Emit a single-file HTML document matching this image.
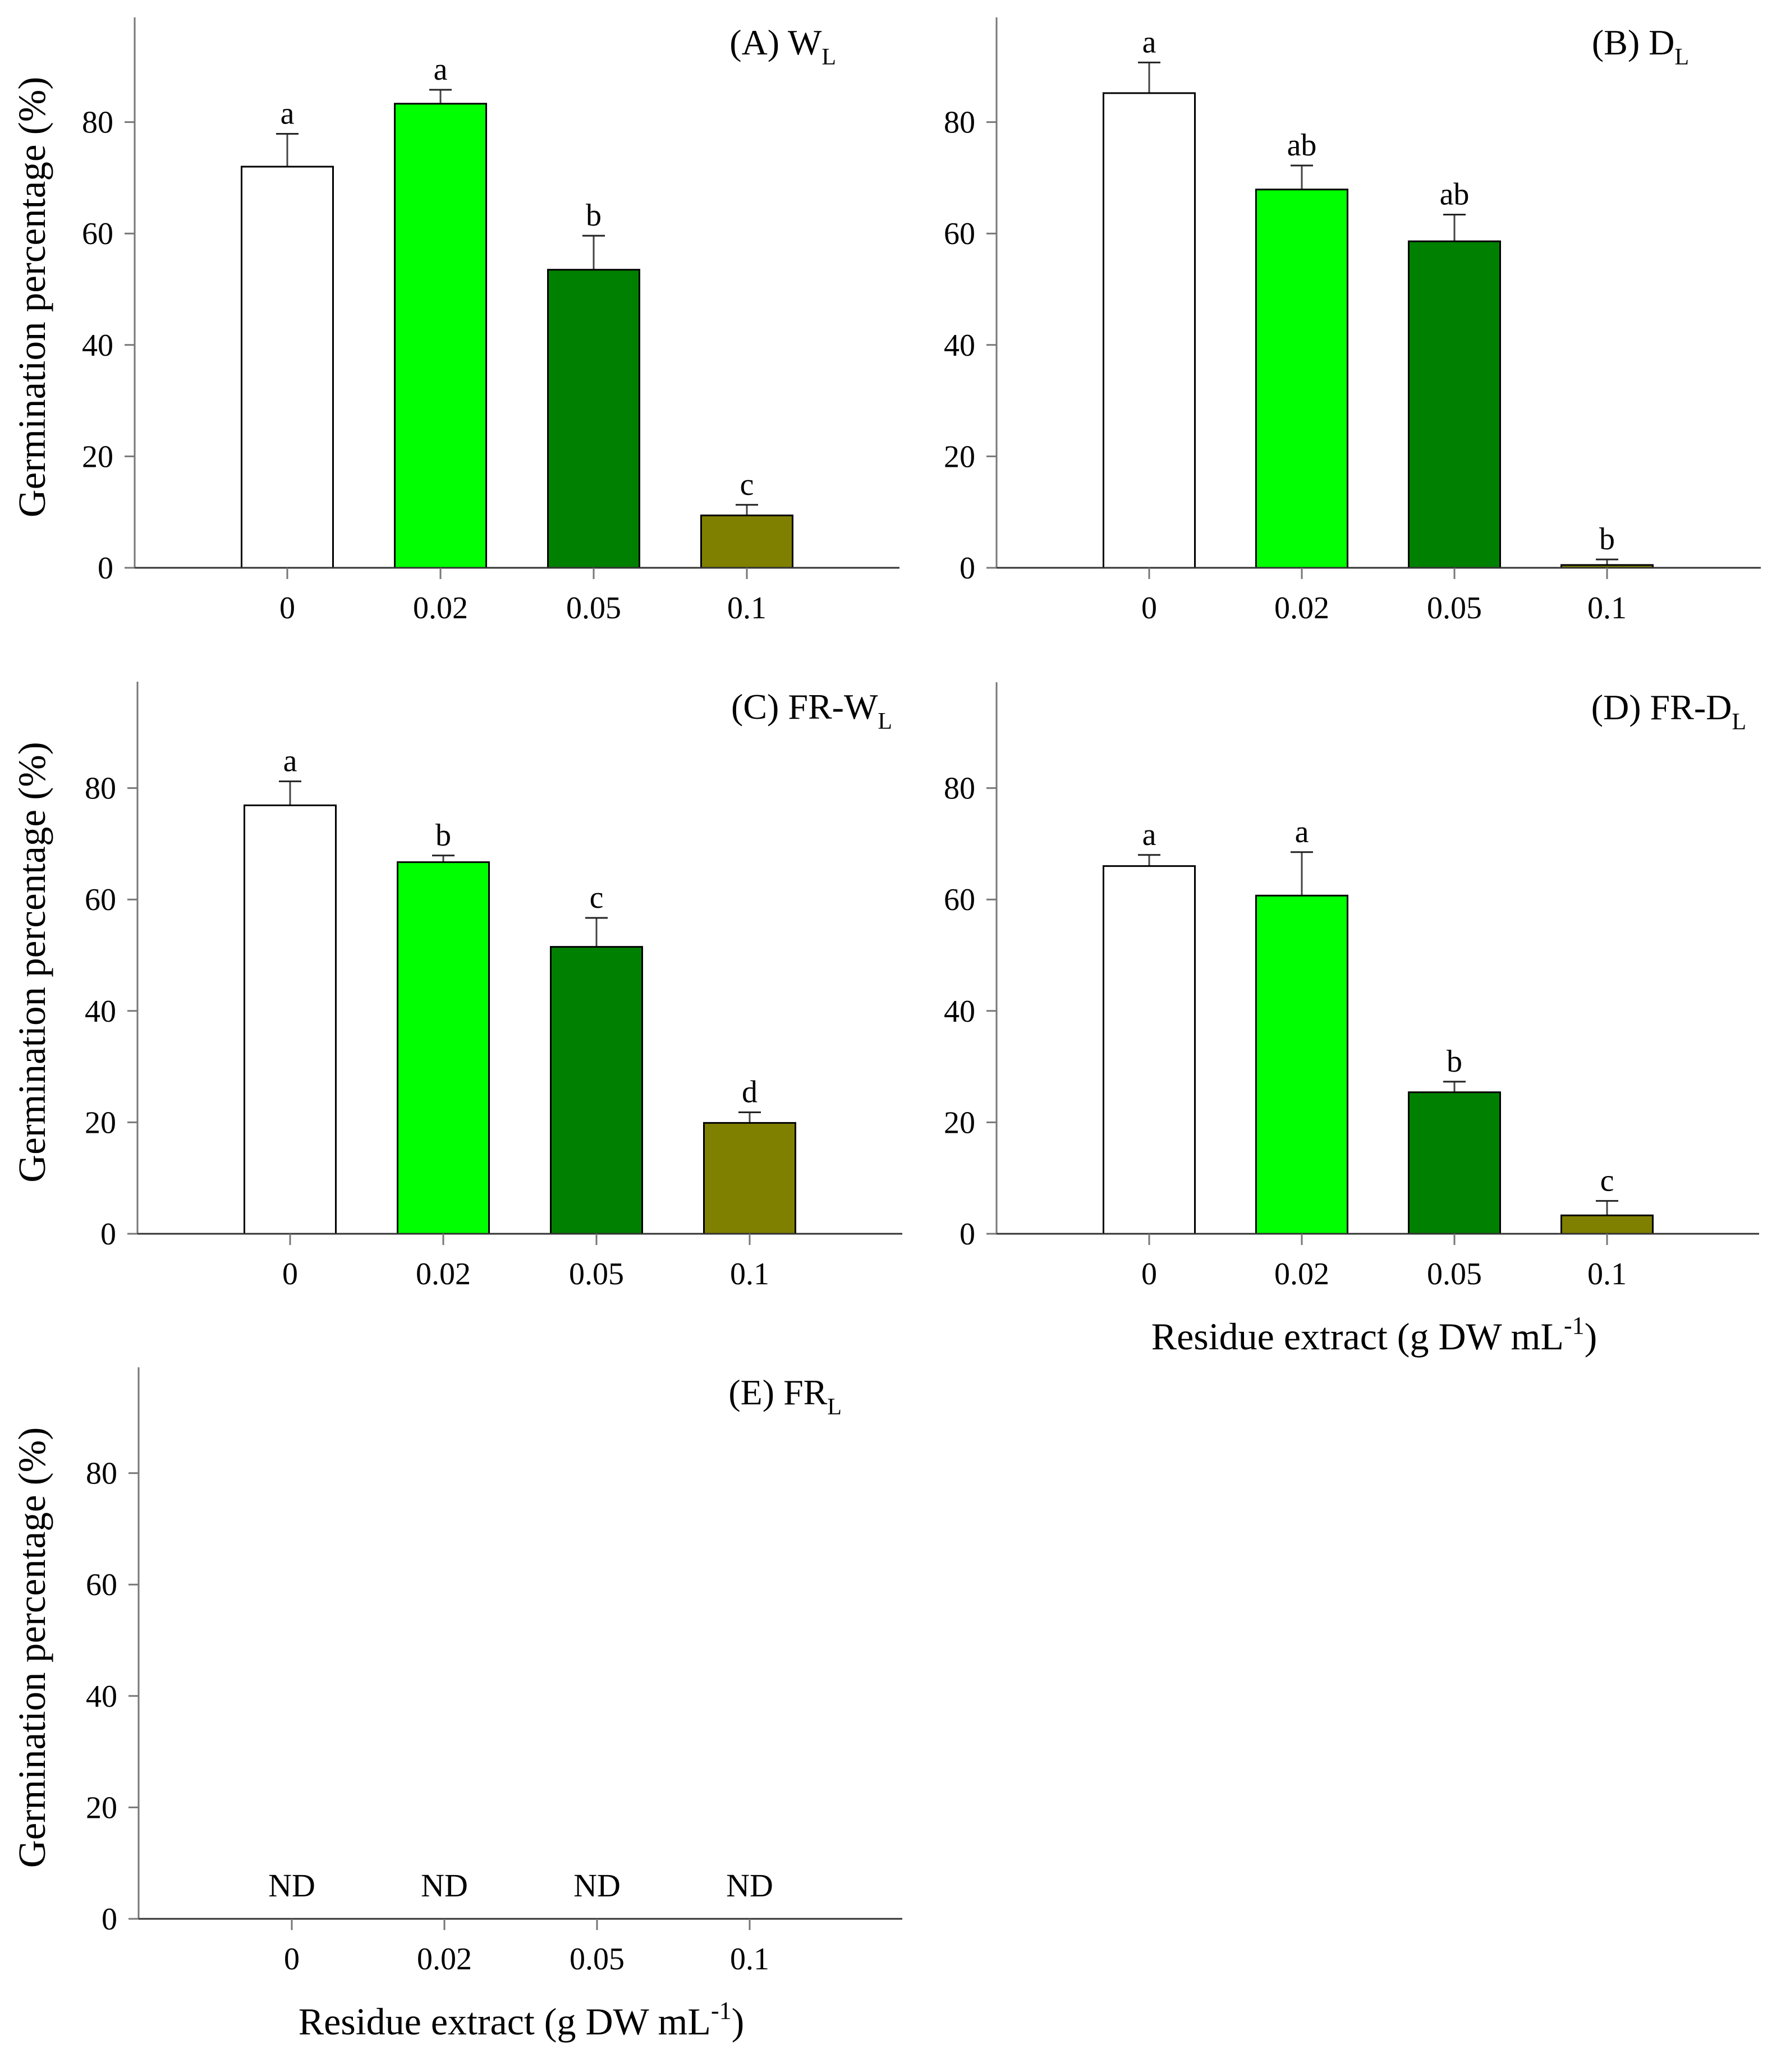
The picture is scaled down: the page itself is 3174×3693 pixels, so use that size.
<!DOCTYPE html>
<html><head><meta charset="utf-8">
<style>
html,body{margin:0;padding:0;background:#fff;}
svg, svg text{font-family:"Liberation Serif","DejaVu Serif",serif;}
</style></head>
<body>
<svg id="fig" width="3174" height="3688" viewBox="0 0 3174 3688" xmlns="http://www.w3.org/2000/svg" font-family="Liberation Serif, serif"></svg>
<script>
const categories = ["0","0.02","0.05","0.1"];
const yTicks = [0,20,40,60,80];
const barColors = ["#ffffff","#00ff00","#008000","#808000"];
const valuesA = [72, 83.3, 53.5, 9.4];
const errorsA = [5.9, 2.5, 6.1, 1.9];
const lettersA = ["a","a","b","c"];
const valuesB = [85.2, 67.9, 58.6, 0.5];
const errorsB = [5.5, 4.3, 4.8, 1.0];
const lettersB = ["a","ab","ab","b"];
const valuesC = [76.9, 66.7, 51.5, 19.9];
const errorsC = [4.3, 1.2, 5.2, 1.9];
const lettersC = ["a","b","c","d"];
const valuesD = [66, 60.7, 25.4, 3.3];
const errorsD = [2.0, 7.8, 1.9, 2.6];
const lettersD = ["a","a","b","c"];
const valuesE = [];
const errorsE = [];
const lettersE = ["ND","ND","ND","ND"];

const NS = "http://www.w3.org/2000/svg";
const svg = document.getElementById("fig");
function mk(tag, attrs, parent, text){
  const e = document.createElementNS(NS, tag);
  for (const k in attrs) e.setAttribute(k, attrs[k]);
  if (tag === "text") e.setAttribute("font-family", "Liberation Serif, serif");
  if (text !== undefined) e.textContent = text;
  (parent||svg).appendChild(e);
  return e;
}

function panel(cfg){
  const g = mk("g", {});
  
  
  const x0 = cfg.axisX, base = cfg.base, top = cfg.top, xEnd = cfg.xEnd;
  const unit = 9.93;
  const yS = v => base - v*unit;
  const xS = i => cfg.firstX + i*cfg.step;
  const bw = 163;
  cfg.values.forEach((v,i)=>{
    const cx = xS(i);
    const err = cfg.errors[i];
    const el = mk("line",{x1:cx,y1:yS(v),x2:cx,y2:yS(v+err),stroke:"#444","stroke-width":3},g);
    
    
    const cap = mk("line",{x1:cx-20,y1:yS(v+err),x2:cx+20,y2:yS(v+err),stroke:"#222","stroke-width":3},g);
    
    
    const r = mk("rect",{x:cx-bw/2,y:yS(v),width:bw,height:base-yS(v),fill:barColors[i],stroke:"#000","stroke-width":3},g);
    
    
    const t = mk("text",{x:cx,y:yS(v+err)-18,"text-anchor":"middle","font-size":56,fill:"#000"},g,cfg.letters[i]);
    
    
  });
  if (cfg.nd){
    cfg.letters.forEach((l,i)=>{
      const t = mk("text",{x:xS(i),y:base-40,"text-anchor":"middle","font-size":58,fill:"#000"},g,l);
      
      
    });
  }
  const ya = mk("line",{x1:x0,y1:top,x2:x0,y2:base,stroke:"#777","stroke-width":3},g);
  
  
  const xa = mk("line",{x1:x0-18,y1:base,x2:xEnd,y2:base,stroke:"#333","stroke-width":3},g);
  
  
  yTicks.forEach(v=>{
    const tk = mk("line",{x1:x0-18,y1:yS(v),x2:x0,y2:yS(v),stroke:"#777","stroke-width":3},g);
    
    
    const tl = mk("text",{x:x0-38,y:yS(v)+19,"text-anchor":"end","font-size":56,fill:"#000"},g,String(v));
    
    
  });
  categories.forEach((c,i)=>{
    const tk = mk("line",{x1:xS(i),y1:base,x2:xS(i),y2:base+20,stroke:"#777","stroke-width":3},g);
    
    
    const tl = mk("text",{x:xS(i),y:base+90,"text-anchor":"middle","font-size":56,fill:"#000"},g,c);
    
    
  });
  const tt = mk("text",{x:cfg.titleX,y:top+66,"text-anchor":"end","font-size":64,fill:"#000"},g);
  
  
  mk("tspan",{},tt,cfg.title);
  mk("tspan",{"font-size":42,dy:18},tt,"L");
  if (cfg.ylabel){
    const cy = (top+base)/2 + 8;
    const yl = mk("text",{x:58,y:cy,"text-anchor":"middle","font-size":69,fill:"#000",transform:`rotate(-90 58 ${cy})`,dy:22},g,"Germination percentage (%)");
    
    
  }
  if (cfg.xlabel){
    const xl = mk("text",{x:cfg.xlabelX,y:base+206,"text-anchor":"middle","font-size":68,fill:"#000"},g);
    
    
    mk("tspan",{},xl,"Residue extract (g DW mL");
    mk("tspan",{"font-size":44,dy:-28},xl,"-1");
    mk("tspan",{dy:28},xl,")");
  }
}

panel({name:"panel-a",axisX:240,base:1012,top:31,xEnd:1603,firstX:512,step:273,values:valuesA,errors:errorsA,letters:lettersA,title:"(A) W",titleX:1490,ylabel:true});
panel({name:"panel-b",axisX:1776,base:1012,top:31,xEnd:3138,firstX:2048,step:272,values:valuesB,errors:errorsB,letters:lettersB,title:"(B) D",titleX:3010});
panel({name:"panel-c",axisX:245,base:2199,top:1215,xEnd:1608,firstX:517,step:273,values:valuesC,errors:errorsC,letters:lettersC,title:"(C) FR-W",titleX:1590,ylabel:true});
panel({name:"panel-d",axisX:1776,base:2199,top:1216,xEnd:3135,firstX:2048,step:272,values:valuesD,errors:errorsD,letters:lettersD,title:"(D) FR-D",titleX:3112,xlabel:true,xlabelX:2449});
panel({name:"panel-e",axisX:247,base:3420,top:2437,xEnd:1608,firstX:520,step:272,values:valuesE,errors:errorsE,letters:lettersE,title:"(E) FR",titleX:1500,ylabel:true,xlabel:true,xlabelX:929,nd:true});
</script>
</body></html>
